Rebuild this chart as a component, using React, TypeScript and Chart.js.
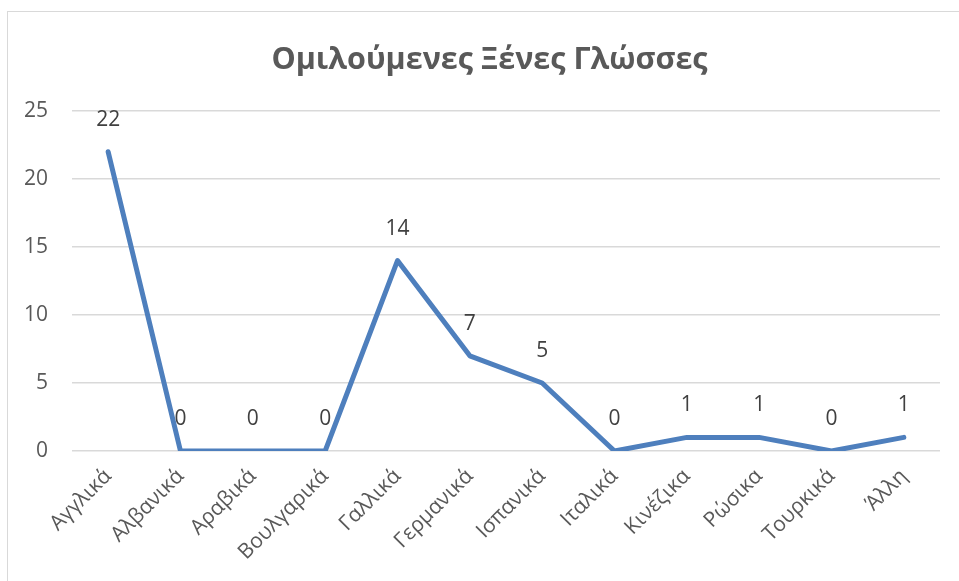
import React, { useEffect, useRef } from "react";
import { Chart, registerables } from "chart.js";

Chart.register(...registerables);

const categories = [
  "Αγγλικά",
  "Αλβανικά",
  "Αραβικά",
  "Βουλγαρικά",
  "Γαλλικά",
  "Γερμανικά",
  "Ισπανικά",
  "Ιταλικά",
  "Κινέζικα",
  "Ρώσικα",
  "Τουρκικά",
  "Άλλη",
];
const values = [22, 0, 0, 0, 14, 7, 5, 0, 1, 1, 0, 1];
const titleText = "Ομιλούμενες Ξένες Γλώσσες";
const yMin = 0;
const yMax = 25;
const yStep = 5;

const FONT = "'Open Sans', 'Noto Sans', sans-serif";

const dataLabelPlugin = {
  id: "dataLabels",
  afterDatasetsDraw(chart: any) {
    const ctx = chart.ctx;
    const meta = chart.getDatasetMeta(0);
    ctx.save();
    ctx.font = `21px ${FONT}`;
    ctx.fillStyle = "#404040";
    ctx.textAlign = "center";
    ctx.textBaseline = "middle";
    meta.data.forEach((pt: any, i: number) => {
      ctx.fillText(String(values[i]), pt.x, pt.y - 32);
    });
    ctx.restore();
  },
};

// Title drawn centred over the chart frame
const titlePlugin = {
  id: "frameTitle",
  afterDraw(chart: any) {
    const ctx = chart.ctx;
    ctx.save();
    ctx.font = `bold 30.5px ${FONT}`;
    ctx.fillStyle = "#595959";
    ctx.textAlign = "center";
    ctx.textBaseline = "middle";
    const cx = chart.width / 2 + 10;
    ctx.fillText(titleText, cx, 60);
    ctx.restore();
  },
};

export default function App() {
  const ref = useRef<HTMLCanvasElement | null>(null);
  useEffect(() => {
    if (!ref.current) return;
    const chart = new Chart(ref.current, {
      type: "line",
      data: {
        labels: categories,
        datasets: [
          {
            data: values,
            borderColor: "#4E7FBD",
            borderWidth: 5,
            pointRadius: 0,
            pointHoverRadius: 0,
            tension: 0,
            fill: false,
            borderJoinStyle: "round",
            borderCapStyle: "round",
          },
        ],
      },
      options: {
        animation: false,
        responsive: false,
        layout: { padding: { top: 111, left: 0, right: 19, bottom: 0 } },
        plugins: {
          legend: { display: false },
          tooltip: { enabled: false },
          title: { display: false },
        },
        scales: {
          x: {
            offset: true,
            grid: { display: false, drawTicks: false },
            border: { display: false },
            ticks: {
              color: "#595959",
              font: { family: FONT, size: 21 },
              maxRotation: 45,
              minRotation: 45,
              padding: 13,
              autoSkip: false,
            },
            afterFit(scale: any) {
              scale.height = 130;
            },
          },
          y: {
            min: yMin,
            max: yMax,
            grid: { color: "#D9D9D9", lineWidth: 1.5, drawTicks: false },
            border: { display: false },
            ticks: {
              stepSize: yStep,
              color: "#595959",
              font: { family: FONT, size: 21 },
              padding: 24,
            },
            afterFit(scale: any) {
              scale.width = 72;
            },
          },
        },
      },
      plugins: [dataLabelPlugin, titlePlugin],
    });
    return () => chart.destroy();
  }, []);
  return (
    <div
      style={{
        position: "fixed",
        left: 0,
        top: 0,
        width: 959,
        height: 581,
        background: "#fff",
        overflow: "hidden",
      }}
    >
      <div
        style={{
          position: "absolute",
          left: 7,
          top: 11,
          width: 1000,
          height: 1000,
          border: "1.5px solid #D9D9D9",
          boxSizing: "border-box",
        }}
      />
      <canvas
        ref={ref}
        width={959}
        height={581}
        style={{ position: "absolute", left: 0, top: 0 }}
      />
    </div>
  );
}
